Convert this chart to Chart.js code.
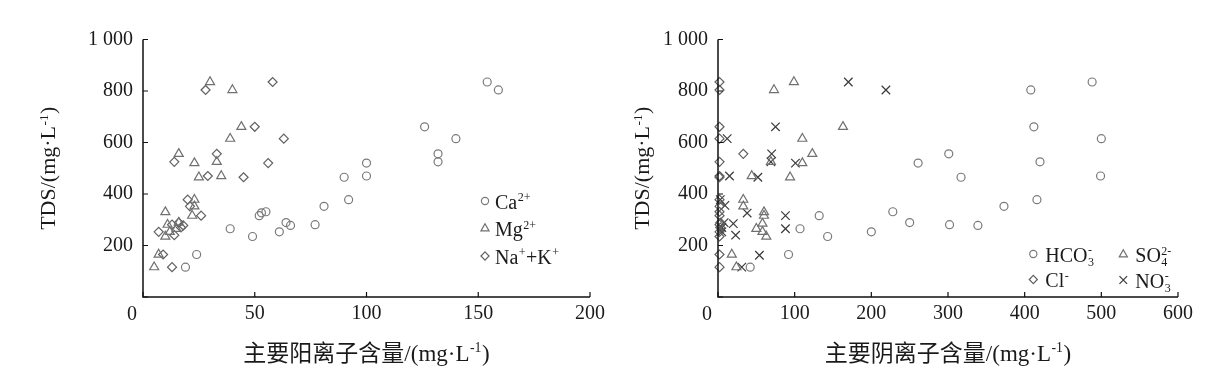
<!DOCTYPE html>
<html><head><meta charset="utf-8">
<script src="https://cdn.jsdelivr.net/npm/chart.js@4.4.1/dist/chart.umd.min.js"></script>
<style>
html,body{margin:0;padding:0;background:#fff;}
#wrap{position:relative;width:1220px;height:380px;background:#fff;}
canvas{position:absolute;top:0;}
</style></head><body>
<div id="wrap">
<canvas id="c1" width="610" height="380" style="left:0"></canvas>
<canvas id="c2" width="610" height="380" style="left:610px"></canvas>
</div>
<script>
// ---- data ----
const tdsTicks = ['0','200','400','600','800','1 000'];
const cationTicks = ['0','50','100','150','200'];
const anionTicks = ['0','100','200','300','400','500','600'];

const caX = [154,159,126,140,132,132,100,100,90,92,81,55,53,52,64,77,66,39,61,49,24,19];
const caY = [835,804,661,615,556,525,520,470,465,378,352,331,327,316,289,281,278,265,253,235,165,116];
const mgX = [30,40,44,39,16,33,23,35,25,23,23,10,22,16,11,15,12,10,7,5];
const mgY = [835,804,661,615,556,525,520,470,465,378,352,330,316,289,281,265,253,235,165,116];
const naX = [58,28,50,63,33,14,56,29,45,20,21,26,13,16,18,17,7,14,9,13];
const naY = [835,804,661,615,556,525,520,470,465,378,352,316,281,289,278,270,253,240,165,116];

const hco3X = [488,408,412,500,301,420,261,499,317,416,373,228,132,250,302,339,107,200,143,92,42];
const hco3Y = [835,804,661,615,556,525,520,470,465,378,352,331,316,289,281,278,265,253,235,165,116];
const clX = [2,2,2,2,33,2,2,2,2,2,2,2,3,2,3,2,2,2,2];
const clY = [835,804,661,615,556,525,470,465,378,352,331,316,289,281,270,253,235,165,116];
const so4X = [99,73,163,110,123,69,110,44,94,33,33,60,60,58,50,58,63,18,24];
const so4Y = [835,804,661,615,556,525,520,470,465,378,352,330,316,285,265,253,235,165,116];
const no3X = [170,219,75,12,70,69,101,15,52,3,9,38,88,8,20,5,88,5,23,54,31];
const no3Y = [835,804,661,615,556,525,520,470,465,378,356,326,316,289,285,270,265,253,240,162,116];

// labels (rich text: t = normal, sup/sub = small)
const lblCa = [{t:'Ca'},{sup:'2+'}];
const lblMg = [{t:'Mg'},{sup:'2+'}];
const lblNa = [{t:'Na'},{sup:'+'},{t:'+K'},{sup:'+'}];
const lblHCO3 = [{t:'HCO'},{sub:'3',sup:'-'}];
const lblSO4 = [{t:'SO'},{sub:'4',sup:'2-'}];
const lblCl = [{t:'Cl'},{sup:'-'}];
const lblNO3 = [{t:'NO'},{sub:'3',sup:'-'}];
const yTitle = [{t:'TDS/(mg·L'},{sup:'-1'},{t:')'}];
const xTitleCation = [{t:'主要阳离子含量/(mg·L'},{sup:'-1'},{t:')'}];
const xTitleAnion = [{t:'主要阴离子含量/(mg·L'},{sup:'-1'},{t:')'}];

// ---- helpers ----
const SERIF = '"Liberation Serif","Times New Roman","Noto Sans CJK SC",serif';
const TXT = '#1a1a1a';
function pts(xs, ys){ return xs.map((x,i)=>({x, y:ys[i]})); }
function richWidth(ctx, segs, size){
  let w = 0;
  for (const s of segs){
    if (s.t !== undefined){ ctx.font = size+'px '+SERIF; w += ctx.measureText(s.t).width; }
    else { ctx.font = (size*0.6)+'px '+SERIF;
      w += Math.max(s.sup?ctx.measureText(s.sup).width:0, s.sub?ctx.measureText(s.sub).width:0) + 1; }
  }
  return w;
}
function drawRich(ctx, segs, x, y, size){
  ctx.textAlign = 'left'; ctx.textBaseline = 'alphabetic';
  for (const s of segs){
    if (s.t !== undefined){ ctx.font = size+'px '+SERIF; ctx.fillText(s.t, x, y); x += ctx.measureText(s.t).width; }
    else {
      ctx.font = (size*0.6)+'px '+SERIF;
      let w = 0;
      if (s.sup){ ctx.fillText(s.sup, x+0.5, y - size*0.36); w = Math.max(w, ctx.measureText(s.sup).width); }
      if (s.sub){ ctx.fillText(s.sub, x+0.5, y + size*0.2); w = Math.max(w, ctx.measureText(s.sub).width); }
      x += w + 1;
    }
  }
}
function drawMarker(ctx, style, r, x, y){
  ctx.beginPath();
  if (style==='circle'){ ctx.arc(x,y,r,0,Math.PI*2); }
  else if (style==='triangle'){
    ctx.moveTo(x, y - r);
    ctx.lineTo(x + r*Math.sin(Math.PI*2/3), y - r*Math.cos(Math.PI*2/3));
    ctx.lineTo(x - r*Math.sin(Math.PI*2/3), y - r*Math.cos(Math.PI*2/3));
    ctx.closePath();
  } else if (style==='rectRot'){
    ctx.moveTo(x, y-r); ctx.lineTo(x+r, y); ctx.lineTo(x, y+r); ctx.lineTo(x-r, y); ctx.closePath();
  } else if (style==='crossRot'){
    const o = r*Math.SQRT1_2;
    ctx.moveTo(x-o,y-o); ctx.lineTo(x+o,y+o); ctx.moveTo(x+o,y-o); ctx.lineTo(x-o,y+o);
  }
  ctx.stroke();
}

const decorPlugin = {
  id:'decor',
  afterDraw(chart, args, o){
    const ctx = chart.ctx, a = chart.chartArea, xs = chart.scales.x, ys = chart.scales.y;
    ctx.save();
    // axes
    ctx.strokeStyle = '#111'; ctx.lineWidth = 1.5;
    ctx.beginPath();
    ctx.moveTo(a.left, ys.getPixelForValue(ys.max)); ctx.lineTo(a.left, a.bottom);
    ctx.lineTo(xs.getPixelForValue(xs.max), a.bottom);
    ctx.stroke();
    // inward ticks
    ctx.lineWidth = 1.2;
    ctx.beginPath();
    xs.ticks.forEach(t=>{ const p = xs.getPixelForValue(t.value); ctx.moveTo(p, a.bottom); ctx.lineTo(p, a.bottom-5); });
    ys.ticks.forEach(t=>{ const p = ys.getPixelForValue(t.value); ctx.moveTo(a.left, p); ctx.lineTo(a.left+5, p); });
    ctx.stroke();
    // corner zero
    ctx.fillStyle = TXT; ctx.font = '20px '+SERIF; ctx.textAlign='center'; ctx.textBaseline='middle';
    ctx.fillText(o.zero, a.left-11, a.bottom+18);
    // y title
    const ysz = 22;
    const yw = richWidth(ctx, yTitle, ysz);
    ctx.save();
    ctx.translate(a.left - o.yTitleOff, (a.top+a.bottom)/2);
    ctx.rotate(-Math.PI/2);
    drawRich(ctx, yTitle, -yw/2, ysz*0.34, ysz);
    ctx.restore();
    // x title
    const xsz = 23;
    const xw = richWidth(ctx, o.xTitle, xsz);
    drawRich(ctx, o.xTitle, (a.left+a.right)/2 - xw/2, a.bottom + 56 + 7.5, xsz);
    // legend
    o.legend.forEach(it=>{
      const ds = chart.data.datasets[it.ds];
      ctx.strokeStyle = ds.borderColor; ctx.lineWidth = ds.borderWidth;
      const mx = a.left + it.dx, my = a.top + it.dy;
      drawMarker(ctx, ds.pointStyle, ds.pointRadius*0.9, mx, my);
      ctx.fillStyle = TXT;
      drawRich(ctx, it.label, mx + it.gap, my + 7.5, 20);
    });
    ctx.restore();
  }
};

function ds(label, data, style, r, color){
  return {label, data, pointStyle:style, pointRadius:r, pointHoverRadius:r,
    borderColor:color, backgroundColor:'rgba(0,0,0,0)', borderWidth:1.2, clip:false};
}

function makeChart(id, datasets, xMax, xStep, xLabels, yW, padRight, decor){
  return new Chart(document.getElementById(id), {
    type:'scatter',
    data:{datasets},
    options:{
      responsive:false, animation:false, devicePixelRatio:1,
      layout:{padding:{left:0, right:padRight, top:39.5, bottom:0}},
      plugins:{legend:{display:false}, tooltip:{enabled:false}, decor},
      scales:{
        x:{type:'linear', min:0, max:xMax,
          grid:{display:false, drawTicks:false}, border:{display:false},
          ticks:{stepSize:xStep, padding:5, autoSkip:false, maxRotation:0, color:TXT,
            font:{family:SERIF, size:20},
            callback:(v,i)=> i===0 ? '' : xLabels[i]},
          afterFit:s=>{ s.height = 83; }},
        y:{type:'linear', min:0, max:1000,
          grid:{display:false, drawTicks:false}, border:{display:false},
          ticks:{stepSize:200, padding:10, color:TXT, font:{family:SERIF, size:20},
            callback:(v,i)=> i===0 ? '' : tdsTicks[i]},
          afterFit:s=>{ s.width = yW; }}
      }
    },
    plugins:[decorPlugin]
  });
}

makeChart('c1', [
  ds('Ca2+', pts(caX,caY), 'circle', 4, '#7a7a7a'),
  ds('Mg2+', pts(mgX,mgY), 'triangle', 5.2, '#707070'),
  ds('Na++K+', pts(naX,naY), 'rectRot', 4.5, '#606060')
], 200, 50, cationTicks, 143, 17, {
  zero:cationTicks[0], yTitleOff:95, xTitle:xTitleCation,
  legend:[
    {ds:0, dx:342, dy:161.5, gap:10, label:lblCa},
    {ds:1, dx:342, dy:189, gap:10, label:lblMg},
    {ds:2, dx:342, dy:216.5, gap:10, label:lblNa}
  ]
});

makeChart('c2', [
  ds('HCO3-', pts(hco3X,hco3Y), 'circle', 4, '#7a7a7a'),
  ds('Cl-', pts(clX,clY), 'rectRot', 4.5, '#606060'),
  ds('SO42-', pts(so4X,so4Y), 'triangle', 5.2, '#707070'),
  ds('NO3-', pts(no3X,no3Y), 'crossRot', 6, '#3a3a3a')
], 600, 100, anionTicks, 108, 42, {
  zero:anionTicks[0], yTitleOff:76, xTitle:xTitleAnion,
  legend:[
    {ds:0, dx:315.3, dy:214.5, gap:12, label:lblHCO3},
    {ds:1, dx:315.3, dy:240, gap:12, label:lblCl},
    {ds:2, dx:405.3, dy:215, gap:12, label:lblSO4},
    {ds:3, dx:405.3, dy:240.5, gap:12, label:lblNO3}
  ]
});
</script>
</body></html>
